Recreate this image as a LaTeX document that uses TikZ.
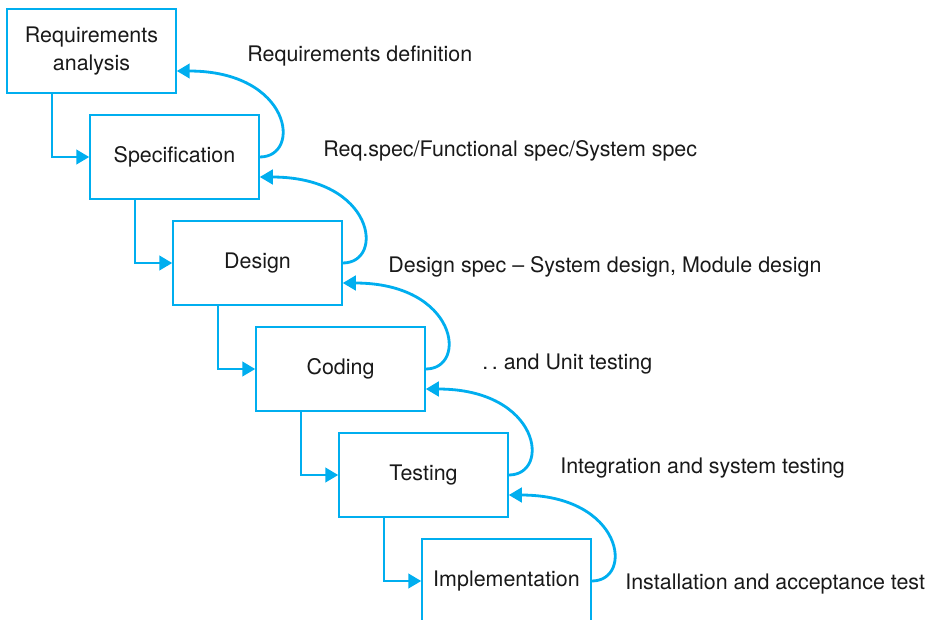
\documentclass[tikz,border=0pt]{standalone}
\usepackage{fontspec}
\setmainfont{TeX Gyre Heros}
\usepackage{xcolor}
\usepackage{tikz}
\usetikzlibrary{arrows.meta,positioning}
\definecolor{wfblue}{RGB}{0,174,239}

\begin{document}
\begin{tikzpicture}[
  font=\fontsize{12.2}{14.5}\selectfont,
  >={Triangle[length=2.6mm, width=2.9mm]},
  stage/.style={draw=wfblue, line width=0.85pt, minimum width=3.38cm, minimum height=1.68cm, align=center, text=black!90, inner sep=2pt},
  fwd/.style={->, draw=wfblue, line width=1.6pt},
  back/.style={->, draw=wfblue, line width=1.6pt},
  lbl/.style={anchor=west, text=black!90, inner sep=0pt}
]
\useasboundingbox (0,0) rectangle (18.56,-12.38);
\node[stage] (req)  at (1.83,-1.02)  {Requirements\\[1pt]analysis};
\node[stage] (spec) at (3.49,-3.14)  {Specification};
\node[stage] (des)  at (5.15,-5.26)  {Design};
\node[stage] (cod)  at (6.81,-7.38)  {Coding};
\node[stage] (tst)  at (8.47,-9.50)  {Testing};
\node[stage] (imp)  at (10.13,-11.62) {Implementation};
% downward flow
\draw[fwd] ([xshift=-0.79cm]req.south) |- (spec.west);
\draw[fwd] ([xshift=-0.79cm]spec.south) |- (des.west);
\draw[fwd] ([xshift=-0.79cm]des.south) |- (cod.west);
\draw[fwd] ([xshift=-0.79cm]cod.south) |- (tst.west);
\draw[fwd] ([xshift=-0.79cm]tst.south) |- (imp.west);
% feedback loops
\draw[back] (spec.east) .. controls +(0.85,0) and +(2.3,0) .. ([yshift=-0.4cm]req.east);
\draw[back] (des.east) .. controls +(0.85,0) and +(2.3,0) .. ([yshift=-0.4cm]spec.east);
\draw[back] (cod.east) .. controls +(0.85,0) and +(2.3,0) .. ([yshift=-0.4cm]des.east);
\draw[back] (tst.east) .. controls +(0.85,0) and +(2.3,0) .. ([yshift=-0.4cm]cod.east);
\draw[back] (imp.east) .. controls +(0.85,0) and +(2.3,0) .. ([yshift=-0.4cm]tst.east);
% labels
\node[lbl] (l1) at (4.94,-1.12)  {Requirements definition};
\node[lbl] (l2) at (6.46,-3.02)  {Req.spec/Functional spec/System spec};
\node[lbl] (l3) at (7.76,-5.34)  {Design spec -- System design, Module design};
\node[lbl] (l4) at (9.64,-7.28)  {.\,.\ and Unit testing};
\node[lbl] (l5) at (11.20,-9.36) {Integration and system testing};
\node[lbl] (l6) at (12.50,-11.68) {Installation and acceptance test};
\end{tikzpicture}
\end{document}
